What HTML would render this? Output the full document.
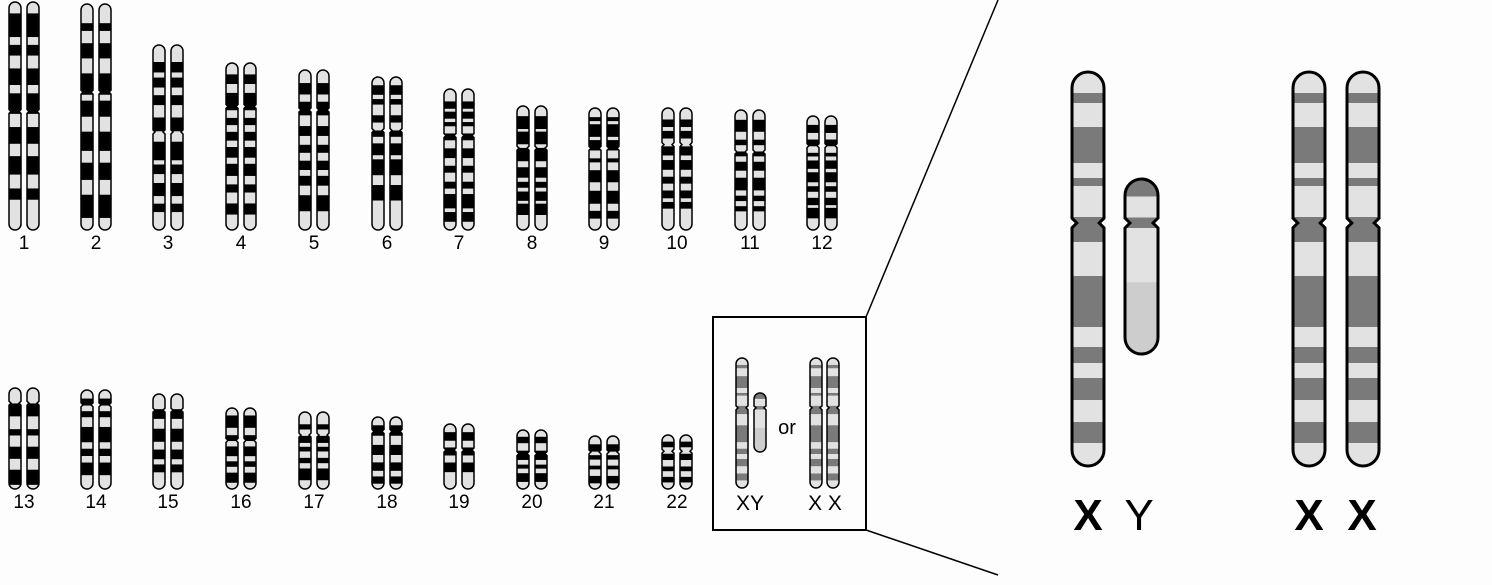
<!DOCTYPE html>
<html><head><meta charset="utf-8"><style>
html,body{margin:0;padding:0;background:#fdfdfd;}
svg{display:block;font-family:"Liberation Sans",sans-serif;}
</style></head><body>
<svg id="s" width="1492" height="585" viewBox="0 0 1492 585" xmlns="http://www.w3.org/2000/svg">
<rect width="1492" height="585" fill="#fdfdfd"/>
</svg>
<script>
var s=document.getElementById('s'),out='';
var cid=0;
function chrom(x,w,top,bot,bands,cen,bandCol,fill,sw){
  cid++;var r=w/2;
  var d='M'+x+','+(top+r)+' A'+r+','+r+' 0 0 1 '+(x+w)+','+(top+r)+' L'+(x+w)+','+(bot-r)+' A'+r+','+r+' 0 0 1 '+x+','+(bot-r)+' Z';
  if(cen){var n=Math.max(2,w*0.15);
    d='M'+x+','+(top+r)+' A'+r+','+r+' 0 0 1 '+(x+w)+','+(top+r)+' L'+(x+w)+','+(cen-n)+' L'+(x+w-n)+','+cen+' L'+(x+w)+','+(cen+n)+' L'+(x+w)+','+(bot-r)+' A'+r+','+r+' 0 0 1 '+x+','+(bot-r)+' L'+x+','+(cen+n)+' L'+(x+n)+','+cen+' L'+x+','+(cen-n)+' Z';}
  out+='<clipPath id="c'+cid+'"><path d="'+d+'"/></clipPath><path d="'+d+'" fill="'+fill+'"/><g clip-path="url(#c'+cid+')">';
  bands.forEach(function(b){var y1=top+(bot-top)*b[0],y2=top+(bot-top)*b[1];out+='<rect x="'+x+'" y="'+y1+'" width="'+w+'" height="'+(y2-y1)+'" fill="'+(b[2]||bandCol)+'"/>';});
  out+='</g><path d="'+d+'" fill="none" stroke="#000" stroke-width="'+sw+'"/>';
}
var XT=72,XB=466,XL=XB-XT;
var xb=[[93,103],[127,163],[178,186],[217,242],[276,327],[347,363],[378,400],[422,443]].map(function(a){return [(a[0]-XT)/XL,(a[1]-XT)/XL];});
var xcen=(223-XT)/XL;
var yb=[[0,0.1],[0.22,0.28],[0.59,1,'#cdcdcd']];var ycen=(223-179)/(354-179);
var seed=7;function rnd(){seed=(seed*16807)%2147483647;return seed/2147483647;}
function genBands(n,gmin,gvar,lmin,lvar){var b=[],p=0.03;for(var i=0;i<n;i++){var g=gmin+rnd()*gvar,l=lmin+rnd()*lvar;p+=g;if(p+l>0.96)break;b.push([p,p+l]);p+=l;}return b;}
var c1=[24,96,168,241,314,387,459,532,604,677,750,822];
var t1=[2,4,45,63,70,77,89,106,108,108,110,116];
var ce1=[0.48,0.39,0.47,0.26,0.25,0.35,0.33,0.34,0.33,0.3,0.35,0.26];
for(var i=0;i<12;i++){var b=genBands(16,0.02,0.05,0.03,0.08);var cy=t1[i]+(230-t1[i])*ce1[i];
 chrom(c1[i]-15,12,t1[i],230,b,cy,'#000','#e2e2e2',1.5);chrom(c1[i]+3,12,t1[i],230,b,cy,'#000','#e2e2e2',1.5);
 out+='<text x="'+c1[i]+'" y="249" font-size="19" text-anchor="middle">'+(i+1)+'</text>';}
var t2=[388,390,394,408,412,417,424,430,436,435];
var ce2=[0.15,0.15,0.17,0.4,0.3,0.2,0.4,0.4,0.3,0.3];
for(var i=0;i<10;i++){var b=genBands(8,0.05,0.08,0.06,0.1);var cy=t2[i]+(489-t2[i])*ce2[i];
 chrom(c1[i]-15,12,t2[i],489,b,cy,'#000','#e2e2e2',1.5);chrom(c1[i]+3,12,t2[i],489,b,cy,'#000','#e2e2e2',1.5);
 out+='<text x="'+c1[i]+'" y="508" font-size="19" text-anchor="middle">'+(i+13)+'</text>';}
out+='<rect x="713" y="317" width="153" height="213" fill="none" stroke="#000" stroke-width="2"/>';
out+='<line x1="866" y1="317" x2="998" y2="0" stroke="#000" stroke-width="1.5"/><line x1="866" y1="530" x2="998" y2="575" stroke="#000" stroke-width="1.5"/>';
var G='#7a7a7a',F='#e2e2e2';
chrom(736,12,358,488,xb,358+130*xcen,G,F,1.5);
chrom(754,12,393,452,yb,393+59*ycen,G,F,1.5);
chrom(810,12,358,488,xb,358+130*xcen,G,F,1.5);
chrom(827,12,358,488,xb,358+130*xcen,G,F,1.5);
out+='<text x="787" y="434" font-size="20" text-anchor="middle">or</text>';
out+='<text x="750" y="510" font-size="21" text-anchor="middle">XY</text><text x="825" y="510" font-size="21" text-anchor="middle">X X</text>';
chrom(1072,32,72,466,xb,223,G,F,3);
chrom(1125,33,179,354,yb,223,G,F,3);
chrom(1293,32,72,466,xb,223,G,F,3);
chrom(1347,32,72,466,xb,223,G,F,3);
out+='<text x="1088" y="530" font-size="44" font-weight="bold" text-anchor="middle">X</text>';
out+='<text x="1139" y="530" font-size="44" text-anchor="middle">Y</text>';
out+='<text x="1309" y="530" font-size="44" font-weight="bold" text-anchor="middle">X</text>';
out+='<text x="1362" y="530" font-size="44" font-weight="bold" text-anchor="middle">X</text>';
s.insertAdjacentHTML('beforeend',out);
</script>
</body></html>
